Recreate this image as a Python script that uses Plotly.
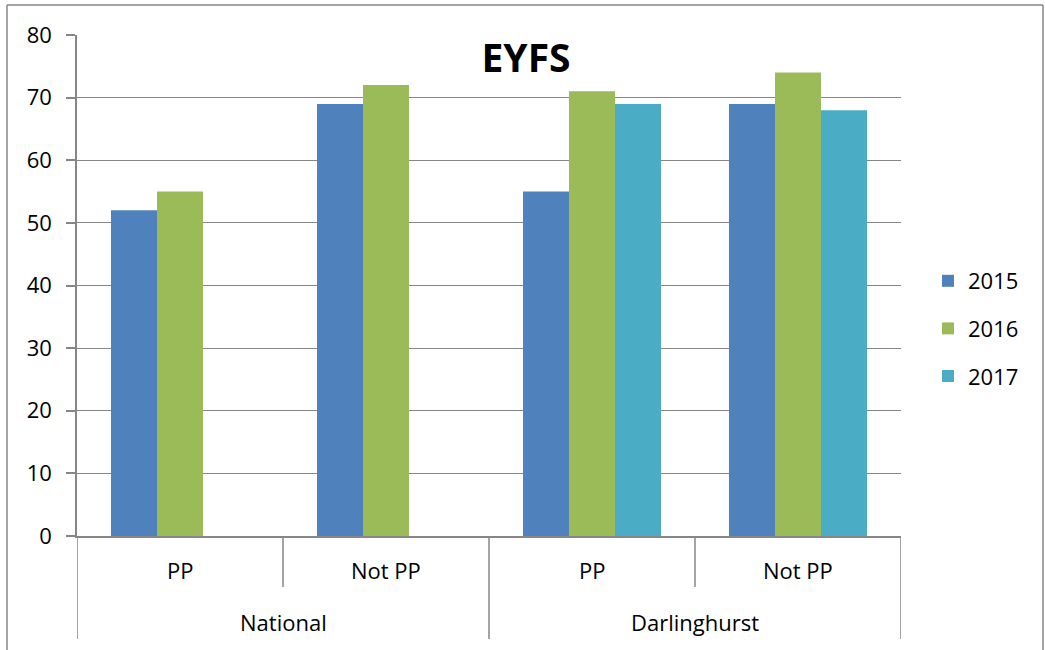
import plotly.graph_objects as go

groups = ["National", "National", "Darlinghurst", "Darlinghurst"]
cats = ["PP", "Not PP", "PP", "Not PP"]
series_names = ["2015", "2016", "2017"]
v2015 = [52, 69, 55, 69]
v2016 = [55, 72, 71, 74]
v2017 = [None, None, 69, 68]
colors = ["#4F81BD", "#9BBB59", "#4BACC6"]
y_ticks = [0, 10, 20, 30, 40, 50, 60, 70, 80]

FONT = "Open Sans"
GRAY = "#868686"
x_keys = [f"{g} {c}" for g, c in zip(groups, cats)]

fig = go.Figure()
for name, vals, col in zip(series_names, [v2015, v2016, v2017], colors):
    fig.add_trace(go.Bar(x=x_keys, y=vals, name=name, marker_color=col,
                         marker_line_width=0, legendgroup=name))

W, H = 1045, 650
L, R, T, B = 77, 144, 35, 114
pw, ph = W - L - R, H - T - B

def px(x):
    return (x - L) / pw

def py(y):
    return (T + ph - y) / ph

# outer chart border (left, top, right; bottom lies below the visible page)
for (x0, y0, x1, y1) in [(7, 5, 7, 660), (7, 5, 1043, 5), (1043, 5, 1043, 660)]:
    fig.add_shape(type="line", xref="paper", yref="paper",
                  x0=px(x0), x1=px(x1), y0=py(y0), y1=py(y1),
                  line=dict(color=GRAY, width=1.5), layer="below")

# category axis dividers
n = len(cats)
for i in range(n + 1):
    xpos = i - 0.5
    is_group_edge = i == 0 or i == n or groups[i] != groups[i - 1]
    fig.add_shape(type="line", xref="x", yref="paper",
                  x0=xpos, x1=xpos, y0=py(536), y1=py(639 if is_group_edge else 587),
                  line=dict(color=GRAY, width=1.5))

for i, c in enumerate(cats):
    fig.add_annotation(x=i, y=py(570), xref="x", yref="paper", text=c,
                       showarrow=False, xanchor="center", yanchor="middle",
                       font=dict(family=FONT, size=22, color="black"))

# group labels
seen = []
for g in groups:
    if g not in seen:
        seen.append(g)
for g in seen:
    idx = [i for i, gg in enumerate(groups) if gg == g]
    fig.add_annotation(x=(idx[0] + idx[-1]) / 2, y=py(622), xref="x", yref="paper",
                       text=g, showarrow=False, xanchor="center", yanchor="middle",
                       font=dict(family=FONT, size=22, color="black"))

fig.update_layout(
    width=W, height=H,
    margin=dict(l=L, r=R, t=T, b=B),
    paper_bgcolor="white", plot_bgcolor="white",
    barmode="group", bargap=0.33, bargroupgap=0,
    font=dict(family=FONT, size=22, color="black"),
    title=dict(text="<b>EYFS</b>", x=px(526), xref="paper", xanchor="center",
               y=(H - 58) / H, yanchor="middle",
               font=dict(family=FONT, size=39, color="black")),
    legend=dict(x=px(928), xanchor="left", y=py(260), yanchor="top",
                font=dict(size=22), tracegroupgap=16, traceorder="grouped",
                itemwidth=30, bgcolor="rgba(0,0,0,0)"),
    showlegend=True,
)
fig.update_yaxes(range=[0, 80], tickvals=y_ticks, showgrid=True, gridcolor=GRAY,
                 gridwidth=1.2, showline=True, linecolor=GRAY, linewidth=1.5,
                 ticks="outside", ticklen=9, tickcolor=GRAY, tickwidth=1.5,
                 zeroline=False, ticklabelstandoff=10,
                 tickfont=dict(family=FONT, size=22))
fig.update_xaxes(type="category", range=[-0.5, n - 0.5], showline=True,
                 linecolor=GRAY, linewidth=1.5, showticklabels=False, ticks="",
                 showgrid=False)

fig.write_html("out.html", config={"displayModeBar": False},
               post_script="document.body.style.margin='0';")
